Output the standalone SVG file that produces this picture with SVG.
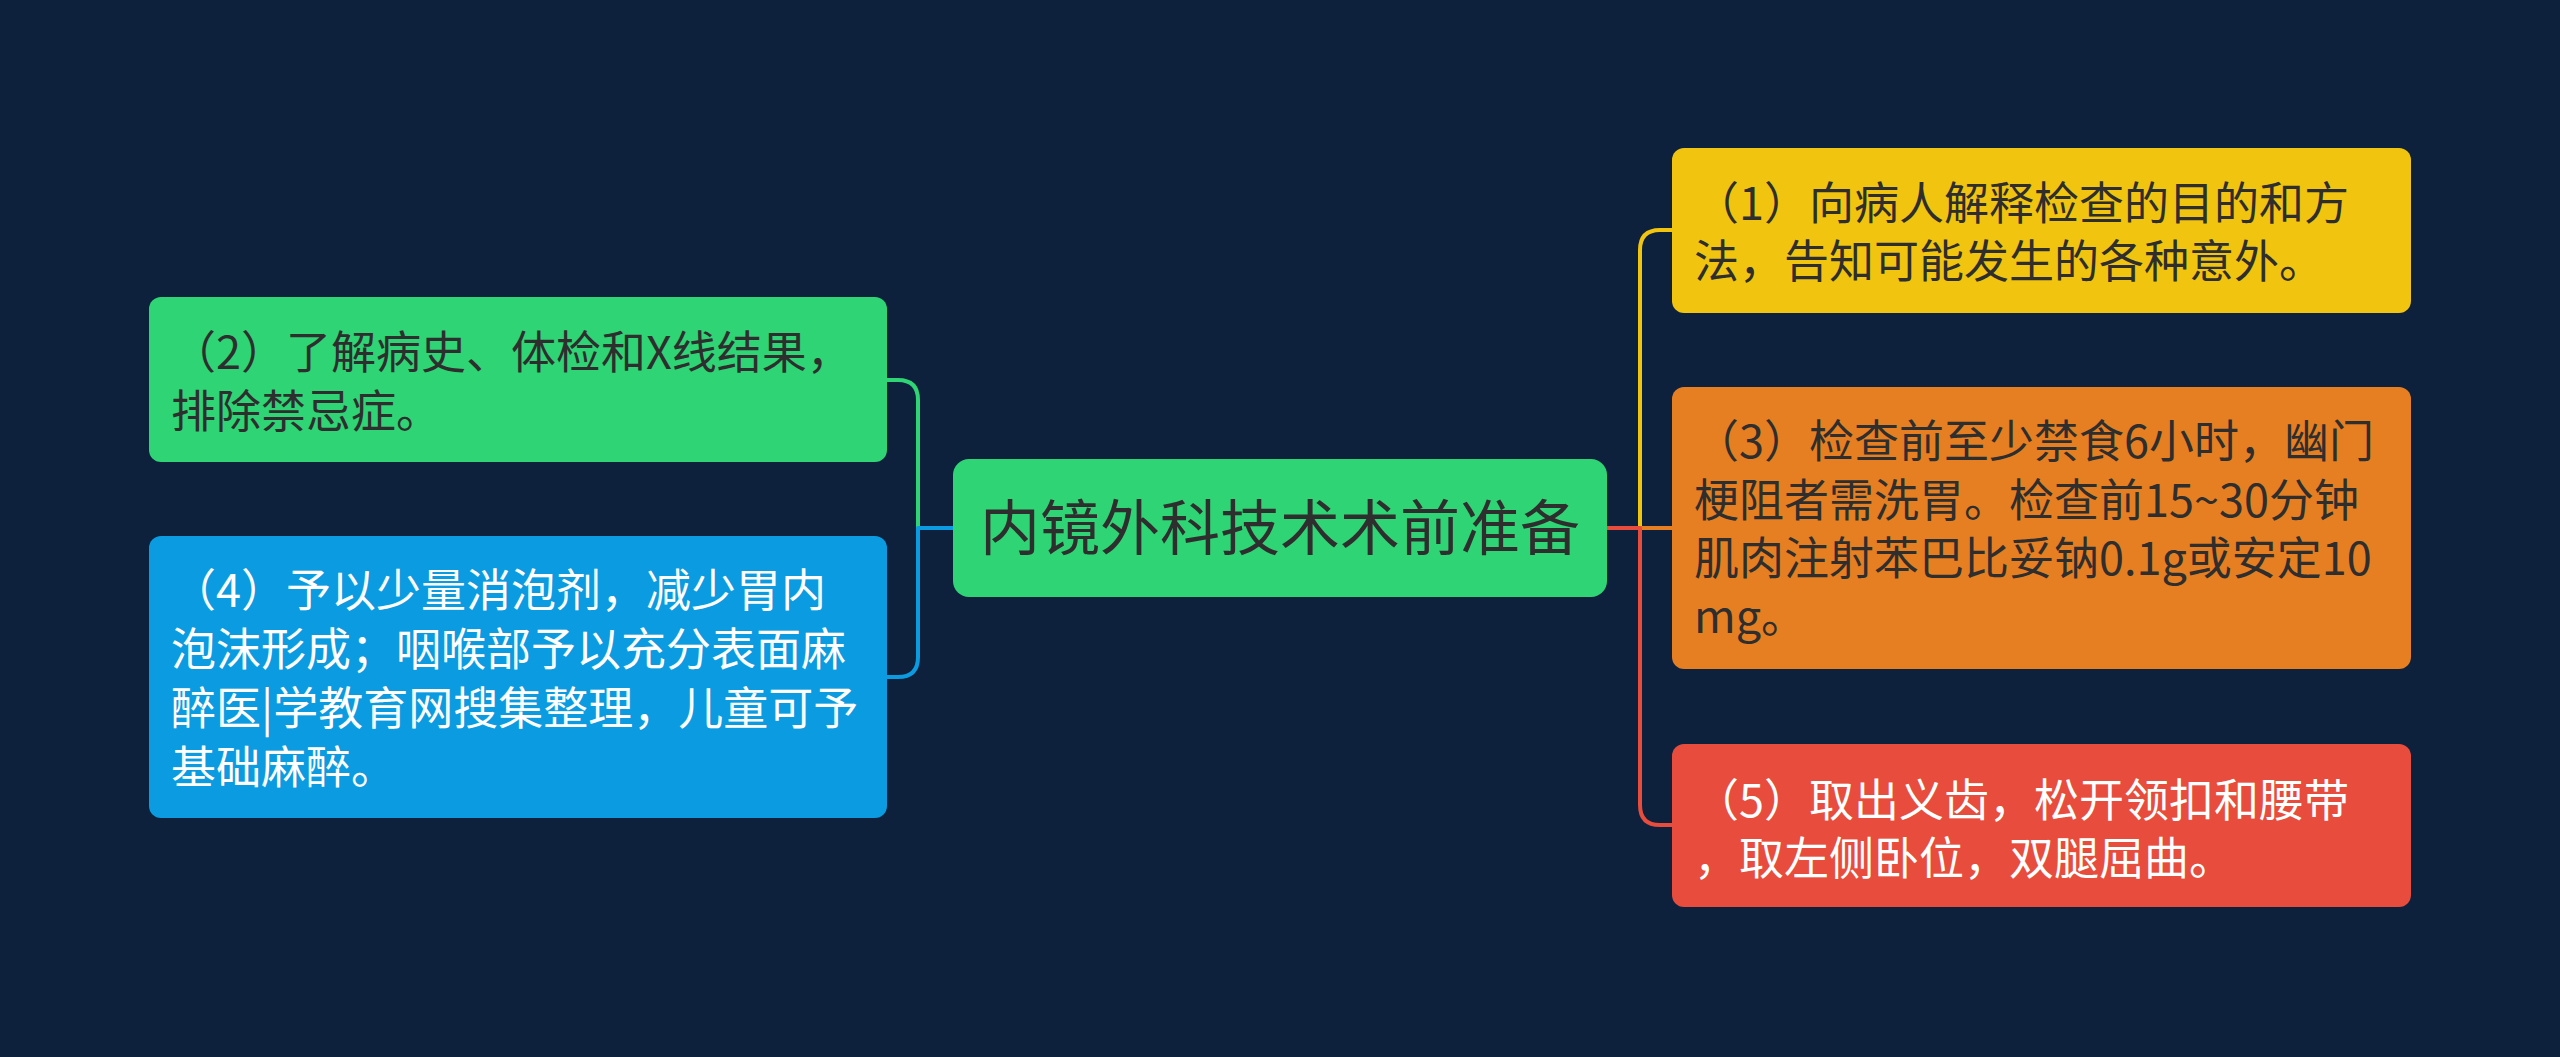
<svg xmlns="http://www.w3.org/2000/svg" width="2560" height="1057" viewBox="0 0 2560 1057">
<style>
.t{font-family:"Noto Sans CJK SC","Noto Sans",sans-serif;font-size:45px}
.dk{fill:#2e2e2e}
.wt{fill:#ffffff}
.c{fill:none;stroke-width:4;stroke-linecap:round;stroke-linejoin:round}
</style>
<rect width="2560" height="1057" fill="#0e213c"/>
<g id="connectors">
<path class="c" stroke="#2fd475" d="M953 528 H918 V400 Q918 380 898 380 H887"/>
<path class="c" stroke="#0b9be0" d="M953 528 H918 V657 Q918 677 898 677 H887"/>
<path class="c" stroke="#f1c40f" d="M1607 528 H1640 V250 Q1640 230 1660 230 H1672"/>
<path class="c" stroke="#e67e22" d="M1607 528 H1672"/>
<path class="c" stroke="#e74c3c" d="M1607 528 H1640 V805 Q1640 825 1660 825 H1672"/>
</g>
<g id="center">
<rect x="953" y="459" width="654" height="138" rx="16" fill="#2fd475"/>
<text x="1280" y="550" text-anchor="middle" font-family="'Noto Sans CJK SC','Noto Sans',sans-serif" font-size="60" fill="#2e2e2e">内镜外科技术术前准备</text>
</g>
<g id="node2">
<rect x="149" y="297" width="738" height="165" rx="12" fill="#2fd475"/>
<text class="t dk"><tspan x="171" y="369">（2）了解病史、体检和X线结果，</tspan><tspan x="171" y="428">排除禁忌症。</tspan></text>
</g>
<g id="node4">
<rect x="149" y="536" width="738" height="282" rx="12" fill="#0b9be0"/>
<text class="t wt"><tspan x="171" y="607">（4）予以少量消泡剂，减少胃内</tspan><tspan x="171" y="666">泡沫形成；咽喉部予以充分表面麻</tspan><tspan x="171" y="725">醉医|学教育网搜集整理，儿童可予</tspan><tspan x="171" y="784">基础麻醉。</tspan></text>
</g>
<g id="node1">
<rect x="1672" y="148" width="739" height="165" rx="12" fill="#f1c40f"/>
<text class="t dk"><tspan x="1694" y="220">（1）向病人解释检查的目的和方</tspan><tspan x="1694" y="278">法，告知可能发生的各种意外。</tspan></text>
</g>
<g id="node3">
<rect x="1672" y="387" width="739" height="282" rx="12" fill="#e67e22"/>
<text class="t dk"><tspan x="1694" y="458">（3）检查前至少禁食6小时，幽门</tspan><tspan x="1694" y="517">梗阻者需洗胃。检查前15~30分钟</tspan><tspan x="1694" y="575">肌肉注射苯巴比妥钠0.1g或安定10</tspan><tspan x="1694" y="633">mg。</tspan></text>
</g>
<g id="node5">
<rect x="1672" y="744" width="739" height="163" rx="12" fill="#e74c3c"/>
<text class="t wt"><tspan x="1694" y="817">（5）取出义齿，松开领扣和腰带</tspan><tspan x="1694" y="875">，取左侧卧位，双腿屈曲。</tspan></text>
</g>
</svg>
